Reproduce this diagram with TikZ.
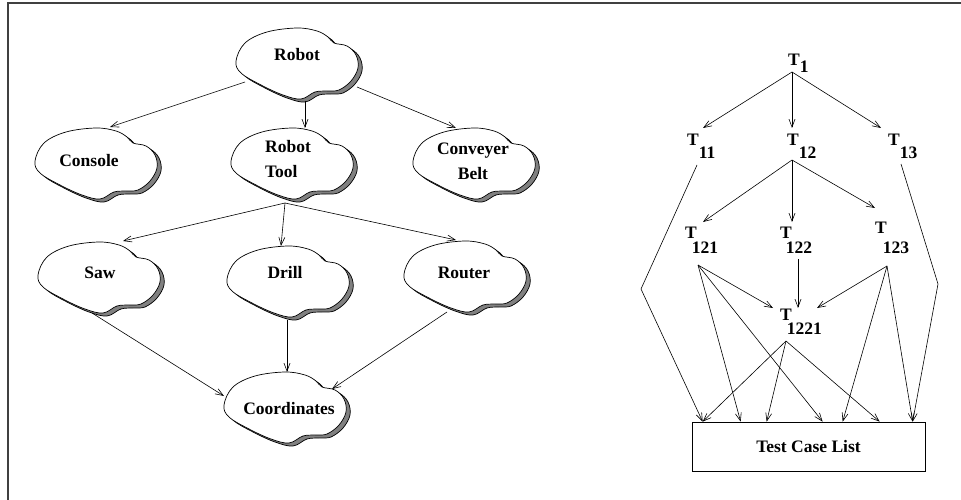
\documentclass[tikz,border=0pt]{standalone}
\usepackage{fontspec}
\setmainfont{Liberation Serif}
\usetikzlibrary{arrows.meta,calc}
\begin{document}
\begin{tikzpicture}[x=1pt,y=-1pt,
  every node/.style={font=\fontsize{17.5}{25}\selectfont\bfseries, inner sep=0pt},
  arr/.style={-{Straight Barb[length=8pt,width=6pt]}, line width=0.6pt},
  tlabel/.style={anchor=base west},
  blob/.pic={
    % shadow, offset down and to the right
    \filldraw[fill=black!50, draw=black, line width=0.7pt, shift={(4,3)}]
      plot[smooth cycle, tension=0.6] coordinates {(-61,-4) (-52,-22) (-30,-33) (0,-37) (20,-34) (31,-28) (37,-22) (50,-19) (59,-10) (61,3) (54,16) (42,25) (30,26) (18,27) (4,34) (-14,30) (-36,20) (-56,8)};
    % cloud outline
    \filldraw[fill=white, draw=black, line width=0.7pt]
      plot[smooth cycle, tension=0.6] coordinates {(-61,-4) (-52,-22) (-30,-33) (0,-37) (20,-34) (31,-28) (37,-22) (50,-19) (59,-10) (61,3) (54,16) (42,25) (30,26) (18,27) (4,34) (-14,30) (-36,20) (-56,8)};
  }]
\useasboundingbox (0,0) rectangle (961,500);
% frame
\draw[line width=1.5pt, black!75] (8,500) -- (8,3) -- (961,3);

% ---------- class hierarchy (left) ----------
\coordinate (robot) at (297,65);
\coordinate (console) at (96,165);
\coordinate (tool) at (292,165);
\coordinate (belt) at (474,165);
\coordinate (saw) at (99,279);
\coordinate (drill) at (288,283);
\coordinate (router) at (465,278);
\coordinate (coords) at (285,409);

\foreach \c in {robot,console,tool,belt,saw,drill,router,coords}
  \pic at (\c) {blob};

\node (robot-t) at (297,55) {Robot};
\node (console-t) at (89,161) {Console};
\node[align=left] (tool-t) at (288,159) {Robot\\Tool};
\node[align=center] (belt-t) at (473,161) {Conveyer\\Belt};
\node (saw-t) at (100,273) {Saw};
\node (drill-t) at (285,272) {Drill};
\node (router-t) at (464,273) {Router};
\node (coords-t) at (289,409) {Coordinates};

\draw[arr] ($(robot)+(-52,17)$) -- ($(console)+(14,-38)$);
\draw[arr] ($(robot)+(8,36)$) -- ($(tool)+(13,-37)$);
\draw[arr] ($(robot)+(60,22)$) -- ($(belt)+(-18,-37)$);
\draw[arr] ($(tool)+(-7,38)$) -- ($(saw)+(24,-38)$);
\draw[arr] ($(tool)+(-7,38)$) -- ($(drill)+(-7,-37)$);
\draw[arr] ($(tool)+(-7,38)$) -- ($(router)+(-9,-38)$);
\draw[arr] ($(saw)+(-7,34)$) -- ($(coords)+(-61,-13)$);
\draw[arr] ($(drill)+(-1,37)$) -- ($(coords)+(2,-37)$);
\draw[arr] ($(router)+(-18,34)$) -- ($(coords)+(47,-20)$);

% ---------- test case tree (right) ----------
\node[tlabel] (t1) at (788,66) {T\raisebox{-7pt}{1}};
\node[tlabel] (t11) at (687,146) {T\raisebox{-13pt}{11}};
\node[tlabel] (t12) at (787,146) {T\raisebox{-13pt}{12}};
\node[tlabel] (t13) at (888,146) {T\raisebox{-13pt}{13}};
\node[tlabel] (t121) at (685,238.5) {T\kern-5pt\raisebox{-14.5pt}{121}};
\node[tlabel] (t122) at (780,238.5) {T\kern-6pt\raisebox{-14.5pt}{122}};
\node[tlabel] (t123) at (875,233.5) {T\kern-4pt\raisebox{-19.5pt}{123}};
\node[tlabel] (t1221) at (780,320.5) {T\kern-5pt\raisebox{-13.5pt}{1221}};
\node[draw, line width=0.7pt, minimum width=233pt, minimum height=49pt] (tcl) at (808.5,446.5) {Test Case List};

% connection points of the labels
\coordinate (t1o) at (792,72);
\coordinate (t11i) at (703,128);
\coordinate (t12i) at (792,128);
\coordinate (t13i) at (881,128);
\coordinate (t11o) at (697,165);
\coordinate (t12o) at (792,160);
\coordinate (t13o) at (901,164);
\coordinate (t121i) at (703,222);
\coordinate (t122i) at (792,222);
\coordinate (t123i) at (875,208);
\coordinate (t121o) at (698,265);
\coordinate (t122o) at (798,259);
\coordinate (t123o) at (887,266);
\coordinate (t1221l) at (773,308);
\coordinate (t1221m) at (798,308);
\coordinate (t1221r) at (817,308);
\coordinate (t1221o) at (786,341);
\coordinate (bendl) at (641,289);
\coordinate (bendr) at (938,284);

\draw[arr] (t1o) -- (t11i);
\draw[arr] (t1o) -- (t12i);
\draw[arr] (t1o) -- (t13i);
\draw[arr] (t12o) -- (t121i);
\draw[arr] (t12o) -- (t122i);
\draw[arr] (t12o) -- (t123i);
\draw[arr] (t11o) -- (bendl) -- ($(tcl.north west)+(11,0)$);
\draw[arr] (t13o) -- (bendr) -- ($(tcl.north west)+(221,0)$);
\draw[arr] (t121o) -- (t1221l);
\draw[arr] (t121o) -- ($(tcl.north west)+(49,0)$);
\draw[arr] (t121o) -- ($(tcl.north west)+(131,0)$);
\draw[arr] (t122o) -- (t1221m);
\draw[arr] (t123o) -- (t1221r);
\draw[arr] (t123o) -- ($(tcl.north west)+(151,0)$);
\draw[arr] (t123o) -- ($(tcl.north west)+(221,0)$);
\draw[arr] (t1221o) -- ($(tcl.north west)+(11,0)$);
\draw[arr] (t1221o) -- ($(tcl.north west)+(75,0)$);
\draw[arr] (t1221o) -- ($(tcl.north west)+(188,0)$);
\end{tikzpicture}
\end{document}
